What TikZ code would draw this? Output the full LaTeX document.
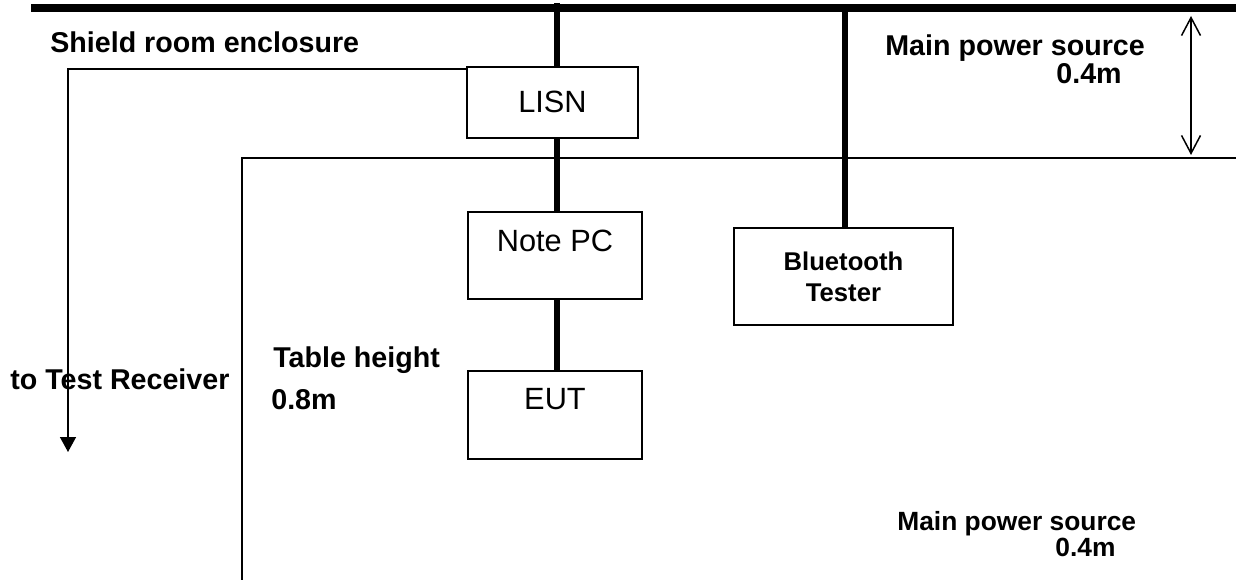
\documentclass[tikz,border=0pt]{standalone}
\usepackage{fontspec}
\setmainfont{Liberation Sans}
\usetikzlibrary{arrows.meta,positioning,calc}

\tikzset{
  unitbox/.style={draw,line width=0.04cm,inner sep=0pt,minimum width=3.48cm,anchor=north west,font=\fontsize{17.5}{21}\selectfont},
  lbl/.style={inner sep=0pt,anchor=base west,font=\bfseries\fontsize{16.3}{19.5}\selectfont},
  smalllbl/.style={inner sep=0pt,anchor=base west,font=\bfseries\fontsize{15}{18}\selectfont},
  feed/.style={line width=0.11cm},
  thinline/.style={line width=0.03cm},
}

\begin{document}
\begin{tikzpicture}[x=0.02cm,y=-0.02cm]
\useasboundingbox (0,0) rectangle (1236,580);
% table edge
\coordinate (tablefoot) at (242,580);
\coordinate (tablecorner) at (242,158);
\coordinate (tableend) at (1236,158);
\draw[thinline] (tablefoot) -- (tablecorner) -- (tableend);
% boxes
\node[unitbox,minimum width=3.42cm,text height=0.92cm,text depth=0.5cm] (lisn) at (466,66) {LISN};
\node[unitbox,text height=0.8cm,text depth=0.94cm] (notepc) at (467,211) {Note PC};
\node[unitbox,text height=0.78cm,text depth=0.98cm] (eut) at (467,370) {EUT};
\node[draw,line width=0.04cm,minimum width=4.38cm,minimum height=1.94cm,anchor=north west,align=center,font=\bfseries\fontsize{14.6}{17.6}\selectfont] (bttester) at (733,227) {Bluetooth\\Tester};
% power bus
\coordinate (busleft) at (31,8);
\coordinate (busright) at (1236,8);
\draw[line width=0.16cm] (busleft) -- (busright);
\coordinate (lisnfeed) at (557,3);
\draw[feed] (lisnfeed) -- (lisnfeed |- lisn.north);
\foreach \a/\b in {lisn/notepc,notepc/eut} \draw[feed] (lisnfeed |- \a.south) -- (lisnfeed |- \b.north);
\coordinate (btfeed) at (845,8);
\draw[feed] (btfeed) -- (btfeed |- bttester.north);
% to receiver
\coordinate (shieldturn) at (68,69);
\coordinate (rxend) at (68,452);
\draw[thinline,-{Triangle[width=0.32cm,length=0.3cm]}] (lisn.west |- shieldturn) -- (shieldturn) -- (rxend);
% 0.4m gap
\coordinate (gaptop) at (1191,16);
\coordinate (gapbot) at (1191,155);
\draw[thinline,{Straight Barb[length=0.36cm,width=0.38cm]}-{Straight Barb[length=0.36cm,width=0.38cm]}] (gaptop) -- (gapbot);
% labels
\node[lbl] (shieldlbl) at (50,53) {Shield room enclosure};
\node[lbl] (mainlbl) at (885,56) {Main power source};
\node[lbl] (mainval) at (1056,84) {0.4m};
\node[lbl] (rxlbl) at (10,390) {to Test Receiver};
\node[lbl] (tablelbl) at (273,368) {Table height};
\node[lbl] (tableval) at (271,409) {0.8m};
\node[smalllbl] (floorlbl) at (897,530) {Main power source};
\node[smalllbl] (floorval) at (1055,556) {0.4m};
\end{tikzpicture}
\end{document}
